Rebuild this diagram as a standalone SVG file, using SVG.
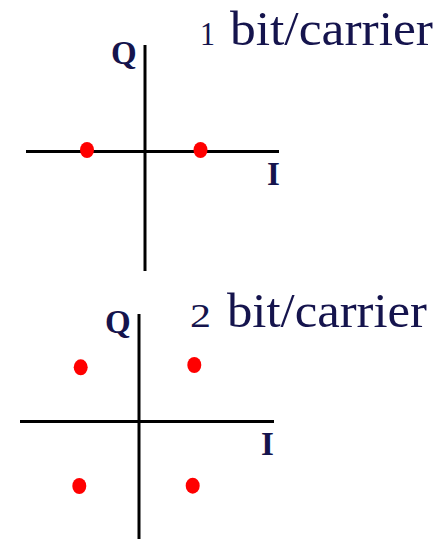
<svg xmlns="http://www.w3.org/2000/svg" width="445" height="539" viewBox="0 0 445 539">
<style>
.ax{stroke:#000;stroke-width:3;fill:none}
.pt{fill:#ff0000}
.t{font-family:"Liberation Serif",serif;fill:#15144d;font-size:48px}
.d{font-family:"Liberation Serif",serif;fill:#15144d;font-size:33px}
.lb{font-family:"Liberation Serif",serif;font-weight:bold;fill:#15144d;font-size:33px}
</style>
<rect width="445" height="539" fill="#fff"/>
<g id="connectors">
<line class="ax" x1="145" y1="45" x2="145" y2="271"/>
<line class="ax" x1="26" y1="151.5" x2="279" y2="151.5"/>
<line class="ax" x1="139" y1="314" x2="139" y2="539"/>
<line class="ax" x1="20" y1="421.5" x2="274" y2="421.5"/>
</g>
<g id="top">
<text class="d" x="200" y="45" textLength="15" lengthAdjust="spacingAndGlyphs">1</text>
<text class="t" x="230" y="45" textLength="203" lengthAdjust="spacingAndGlyphs">bit/carrier</text>
<text class="lb" x="111" y="64">Q</text>
<text class="lb" x="267" y="185">I</text>
<ellipse class="pt" cx="87" cy="150" rx="7" ry="8"/>
<ellipse class="pt" cx="200.5" cy="150" rx="7" ry="8"/>
</g>
<g id="bottom">
<text class="d" x="190" y="327" textLength="21" lengthAdjust="spacingAndGlyphs">2</text>
<text class="t" x="227" y="327" textLength="200" lengthAdjust="spacingAndGlyphs">bit/carrier</text>
<text class="lb" x="105" y="333">Q</text>
<text class="lb" x="261" y="455">I</text>
<ellipse class="pt" cx="80.7" cy="367.3" rx="7" ry="8"/>
<ellipse class="pt" cx="194.3" cy="365" rx="7" ry="8"/>
<ellipse class="pt" cx="79.3" cy="486" rx="7" ry="8"/>
<ellipse class="pt" cx="192.7" cy="485.7" rx="7" ry="8"/>
</g>
</svg>
